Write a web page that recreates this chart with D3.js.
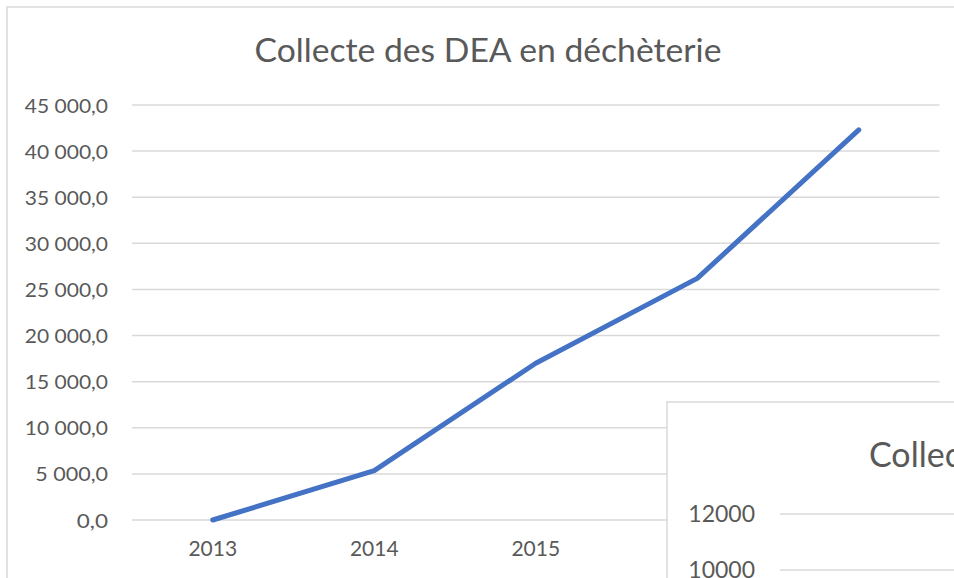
<!doctype html>
<html>
<head>
<meta charset="UTF-8">
<title>Collecte des DEA</title>
<script src="https://d3js.org/d3.v7.min.js"></script>
<style>
  body { margin: 0; background: #fff; }
  text { font-family: Lato, "Open Sans", sans-serif; fill: #595959; }
</style>
</head>
<body>
<svg id="chart" width="954" height="578"></svg>
<script>
// data
var years = ["2013", "2014", "2015", "2016", "2017"];
var tonnes = [0, 5350, 17000, 26200, 42300];
var yTicks = [0, 5000, 10000, 15000, 20000, 25000, 30000, 35000, 40000, 45000];
var shownYears = ["2013", "2014", "2015"]; // the others sit under the second chart
var chartTitle = "Collecte des DEA en déchèterie";
// second (overlapping) chart, only its corner is visible
var ticks2 = [10000, 12000];

var svg = d3.select("#chart");
var W = 954, H = 578;

// outer frame
svg.append("rect")
  .attr("x", 7).attr("y", 7)
  .attr("width", W + 20).attr("height", H + 20)
  .attr("fill", "#fff").attr("stroke", "#d9d9d9").attr("stroke-width", 1.5);

svg.append("text")
  .attr("x", 488).attr("y", 62)
  .attr("text-anchor", "middle")
  .attr("font-size", 33)
  .attr("textLength", 467).attr("lengthAdjust", "spacingAndGlyphs")
  .text(chartTitle);

var x = d3.scaleBand().domain(years).range([132, 939.5]);
var y = d3.scaleLinear().domain([0, 45000]).range([520, 105]);

var fmt = function(d) {
  var s = d3.format(",.1f")(d);
  return s.replace(/,/g, " ").replace(".", ",");
};

// grid lines
svg.append("g")
  .selectAll("line").data(yTicks).enter().append("line")
  .attr("x1", 132).attr("x2", 939.5)
  .attr("y1", function(d) { return y(d); })
  .attr("y2", function(d) { return y(d); })
  .attr("stroke", "#d9d9d9").attr("stroke-width", 1.5);

// y axis labels
var yAxis = d3.axisLeft(y).tickValues(yTicks).tickFormat(fmt).tickSize(0).tickPadding(0);
svg.append("g")
  .attr("transform", "translate(108,0)")
  .call(yAxis)
  .call(function(g) { g.select(".domain").remove(); })
  .selectAll("text")
  .attr("font-size", 20)
  .attr("dy", "0.35em")
  .attr("textLength", function(d) { return fmt(d).length * 10.4; })
  .attr("lengthAdjust", "spacingAndGlyphs")
  .style("font-family", "Lato")
  .attr("fill", "#595959");

// x axis labels
var xAxis = d3.axisBottom(x).tickValues(shownYears).tickSize(0).tickPadding(0);
svg.append("g")
  .attr("transform", "translate(0,541)")
  .call(xAxis)
  .call(function(g) { g.select(".domain").remove(); })
  .selectAll("text")
  .attr("font-size", 21)
  .attr("dy", "0.72em")
  .style("font-family", "Lato")
  .attr("fill", "#595959");

// data line
var line = d3.line()
  .x(function(d, i) { return x(years[i]) + x.bandwidth() / 2; })
  .y(function(d) { return y(d); });

svg.append("path")
  .datum(tonnes)
  .attr("d", line)
  .attr("fill", "none")
  .attr("stroke", "#4472C4")
  .attr("stroke-width", 5)
  .attr("stroke-linejoin", "round")
  .attr("stroke-linecap", "round");

// overlapping second chart
var g2 = svg.append("g");
g2.append("rect")
  .attr("x", 667).attr("y", 402)
  .attr("width", 400).attr("height", 300)
  .attr("fill", "#fff").attr("stroke", "#d9d9d9").attr("stroke-width", 1.5);

g2.append("text")
  .attr("x", 869).attr("y", 467)
  .attr("font-size", 34)
  .text(chartTitle);

var y2 = d3.scaleLinear().domain([0, 12000]).range([514 + 6 * 56, 514]);
g2.selectAll("line.g2").data(ticks2).enter().append("line")
  .attr("class", "g2")
  .attr("x1", 780).attr("x2", 1100)
  .attr("y1", function(d) { return y2(d); })
  .attr("y2", function(d) { return y2(d); })
  .attr("stroke", "#d9d9d9").attr("stroke-width", 1.5);

g2.selectAll("text.t2").data(ticks2).enter().append("text")
  .attr("class", "t2")
  .attr("x", 755)
  .attr("y", function(d) { return y2(d); })
  .attr("dy", "0.36em")
  .attr("text-anchor", "end")
  .attr("font-size", 23)
  .text(function(d) { return d; });
</script>
</body>
</html>
